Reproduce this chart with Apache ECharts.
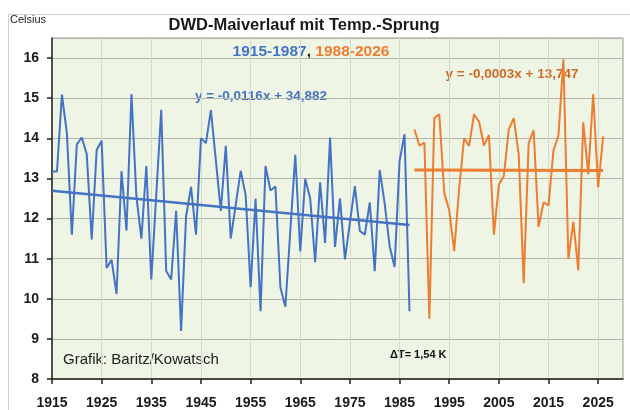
<!DOCTYPE html>
<html>
<head>
<meta charset="utf-8">
<script src="https://cdn.jsdelivr.net/npm/echarts@6/dist/echarts.min.js"></script>
<style>html,body{margin:0;padding:0;background:#fff;}#c{width:630px;height:410px;}</style>
</head>
<body>
<div id="c"></div>
<script>
// ---- data ----
var firstYear = 1915, lastYear = 2030;
var blueStart = 1915; // 1915-1987
var blueValues = [13.17,13.17,15.09,14.12,11.6,13.85,14.02,13.6,11.48,13.71,
  13.94,10.77,10.97,10.12,13.18,11.7,15.1,12.55,11.5,13.31,
  10.48,12.6,14.71,10.69,10.48,12.19,9.2,12.05,12.79,11.6,
  14.0,13.88,14.7,13.45,12.19,13.81,11.5,12.34,13.19,12.59,
  10.29,12.5,9.69,13.31,12.7,12.8,10.29,9.8,11.7,13.59,
  11.18,12.99,12.5,10.91,12.9,11.39,14.02,11.29,12.5,10.98,
  11.9,12.81,11.69,11.6,12.4,10.69,13.21,12.38,11.31,10.79,
  13.43,14.1,9.69];
var orangeStart = 1988; // 1988-2026
var orangeValues = [14.22,13.82,13.89,9.5,14.51,14.6,12.64,12.21,11.19,12.75,
  14.0,13.81,14.6,14.42,13.82,14.08,11.6,12.84,13.06,14.23,
  14.5,13.6,10.39,13.88,14.2,11.79,12.4,12.33,13.7,14.07,
  15.97,10.99,11.92,10.71,14.4,13.1,15.1,12.78,14.05];
var blueTrendYears = ['1915','1987'];
var blueTrendValues = [12.69, 11.84];
var orangeTrendYears = ['1988','2026'];
var orangeTrendValues = [13.21, 13.2];
var yTicks = [8,9,10,11,12,13,14,15,16];

// ---- build ----
var years = [];
for (var y = firstYear; y <= lastYear; y++) years.push(String(y));
function seriesFor(start, vals) {
  return years.map(function (yr) {
    var i = Number(yr) - start;
    return (i >= 0 && i < vals.length) ? vals[i] : null;
  });
}
function pairs(ys, vs) { return ys.map(function (yr, i) { return [yr, vs[i]]; }); }

var BLUE = '#4472c4', ORANGE = '#ed7d31';
var chart = echarts.init(document.getElementById('c'), null, {renderer: 'canvas'});
chart.setOption({
  animation: false,
  backgroundColor: '#ffffff',
  grid: {left: 52, right: 7, top: 38, bottom: 29, show: true,
    backgroundColor: '#eef5e5', borderColor: '#9a9a9a', borderWidth: 1},
  xAxis: {
    type: 'category', data: years, boundaryGap: false,
    axisLine: {lineStyle: {color: '#222', width: 1.5}},
    axisTick: {interval: 9, length: 5, lineStyle: {color: '#222', width: 1.5}},
    axisLabel: {interval: 9, margin: 17, color: '#1a1a1a', fontSize: 14,
      fontFamily: 'Liberation Sans', fontWeight: 'bold'},
    splitLine: {show: true, interval: 9, lineStyle: {color: '#d3dacb', width: 1}}
  },
  yAxis: {
    type: 'value', min: 8, max: 16.5, interval: 1,
    axisLine: {show: true, lineStyle: {color: '#222', width: 1.5}},
    axisTick: {show: true, length: 5, lineStyle: {color: '#222', width: 1.5}},
    axisLabel: {margin: 13, color: '#1a1a1a', fontSize: 14, fontFamily: 'Liberation Sans',
      fontWeight: 'bold', showMaxLabel: false,
      formatter: function (v) { return yTicks.indexOf(v) >= 0 ? String(v) : ''; }},
    splitLine: {lineStyle: {color: '#b4b4ae', width: 1}}
  },
  series: [
    {type: 'line', data: seriesFor(blueStart, blueValues), showSymbol: false, connectNulls: false,
      lineStyle: {color: BLUE, width: 2}, itemStyle: {color: BLUE}, z: 3},
    {type: 'line', data: seriesFor(orangeStart, orangeValues), showSymbol: false, connectNulls: false,
      lineStyle: {color: ORANGE, width: 2}, itemStyle: {color: ORANGE}, z: 3},
    {type: 'line', data: pairs(blueTrendYears, blueTrendValues), showSymbol: false,
      lineStyle: {color: BLUE, width: 2.5}, z: 4},
    {type: 'line', data: pairs(orangeTrendYears, orangeTrendValues), showSymbol: false,
      lineStyle: {color: ORANGE, width: 3}, z: 4}
  ],
  graphic: [
    {type: 'rect', shape: {x: 8.5, y: 14.5, width: 640, height: 420}, silent: true,
      style: {fill: 'none', stroke: '#cfcfcf', lineWidth: 1}, z: -10},
    {type: 'text', x: 10, y: 14, style: {text: 'Celsius', font: '11px "Liberation Sans"', fill: '#222'}},
    {type: 'text', x: 304, y: 17, style: {text: 'DWD-Maiverlauf mit Temp.-Sprung',
      font: 'bold 16.5px "Liberation Sans"', fill: '#1a1a1a', textAlign: 'center'}},
    {type: 'text', x: 311, y: 44, style: {
      text: '{b|1915-1987}{k|, }{o|1988-2026}', textAlign: 'center',
      rich: {
        b: {fill: BLUE, font: 'bold 15.5px "Liberation Sans"'},
        k: {fill: '#222', font: 'bold 15.5px "Liberation Sans"'},
        o: {fill: ORANGE, font: 'bold 15.5px "Liberation Sans"'}
      }}},
    {type: 'text', x: 261, y: 89, style: {text: 'y = -0,0116x + 34,882',
      font: 'bold 13.5px "Liberation Sans"', fill: BLUE, textAlign: 'center'}},
    {type: 'text', x: 512, y: 67, style: {text: 'y = -0,0003x + 13,747',
      font: 'bold 13.5px "Liberation Sans"', fill: '#d06a28', textAlign: 'center'}},
    {type: 'text', x: 63, y: 352, style: {text: 'Grafik: Baritz/Kowatsch',
      font: '15px "Liberation Sans"', fill: '#222'}},
    {type: 'text', x: 390, y: 349, style: {text: '\u0394T= 1,54 K',
      font: 'bold 11px "Liberation Sans"', fill: '#111'}}
  ]
});
</script>
</body>
</html>
